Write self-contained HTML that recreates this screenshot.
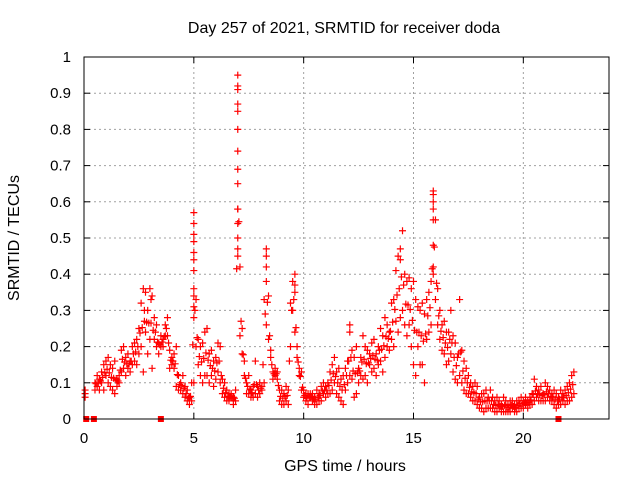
<!DOCTYPE html>
<html><head><meta charset="utf-8"><style>
body{margin:0;background:#fff}
svg{display:block;font-family:"Liberation Sans",sans-serif;font-size:15px}
</style></head><body>
<svg id="chart" width="640" height="480">
<text x="344" y="33" text-anchor="middle" font-size="16">Day 257 of 2021, SRMTID for receiver doda</text>
<text x="345" y="471" text-anchor="middle" font-size="16">GPS time / hours</text>
<text transform="translate(19,238) rotate(-90)" text-anchor="middle" font-size="16">SRMTID / TECUs</text>
<g id="grid"></g><g id="marks"></g>
<rect x="84" y="57" width="525" height="362" fill="none" stroke="#000" stroke-width="1"/>
</svg>
<script>
const xTicks=[0,5,10,15,20];
const yTicks=[0,0.1,0.2,0.3,0.4,0.5,0.6,0.7,0.8,0.9,1];
const yTickLabels=["0","0.1","0.2","0.3","0.4","0.5","0.6","0.7","0.8","0.9","1"];
const tStart=0.5, tStep=0.1;
const valsHi=[0.10,0.12,0.11,0.13,0.15,0.16,0.17,0.15,0.14,0.16,0.11,0.12,0.19,0.20,0.17,0.18,0.16,0.20,0.21,0.22,0.25,0.32,0.36,0.35,0.30,0.36,0.34,0.28,0.26,0.21,0.23,0.22,0.26,0.28,0.19,0.17,0.18,0.20,0.12,0.10,0.12,0.09,0.08,0.06,0.10,0.57,0.33,0.22,0.20,0.21,0.24,0.25,0.18,0.19,0.16,0.17,0.21,0.20,0.11,0.10,0.08,0.07,0.07,0.06,0.08,0.95,0.42,0.25,0.16,0.10,0.12,0.08,0.09,0.16,0.09,0.10,0.09,0.33,0.47,0.34,0.19,0.13,0.14,0.13,0.08,0.08,0.07,0.09,0.08,0.32,0.38,0.40,0.20,0.14,0.13,0.08,0.07,0.07,0.07,0.07,0.06,0.08,0.07,0.09,0.10,0.09,0.10,0.13,0.15,0.17,0.13,0.14,0.11,0.12,0.14,0.16,0.26,0.19,0.17,0.20,0.14,0.17,0.23,0.20,0.19,0.18,0.21,0.22,0.18,0.20,0.25,0.23,0.28,0.26,0.24,0.32,0.33,0.41,0.45,0.47,0.52,0.40,0.38,0.39,0.36,0.38,0.33,0.31,0.30,0.32,0.29,0.33,0.35,0.38,0.62,0.55,0.36,0.30,0.26,0.27,0.24,0.24,0.30,0.23,0.21,0.17,0.33,0.19,0.16,0.14,0.12,0.10,0.09,0.10,0.09,0.06,0.07,0.07,0.08,0.06,0.08,0.06,0.05,0.06,0.05,0.04,0.06,0.05,0.04,0.05,0.05,0.04,0.05,0.05,0.06,0.05,0.06,0.05,0.06,0.07,0.11,0.09,0.08,0.09,0.07,0.10,0.09,0.08,0.07,0.08,0.07,0.06,0.08,0.07,0.08,0.09,0.10,0.12,0.13];
const valsLo=[0.08,0.09,0.08,0.10,0.08,0.12,0.10,0.09,0.08,0.07,0.09,0.10,0.13,0.14,0.12,0.14,0.13,0.15,0.16,0.15,0.18,0.20,0.13,0.24,0.18,0.22,0.14,0.22,0.20,0.18,0.20,0.20,0.23,0.23,0.14,0.15,0.14,0.09,0.08,0.08,0.07,0.06,0.05,0.04,0.05,0.10,0.20,0.15,0.12,0.10,0.12,0.12,0.10,0.12,0.09,0.11,0.13,0.10,0.07,0.06,0.05,0.05,0.06,0.04,0.05,0.58,0.23,0.18,0.12,0.07,0.07,0.06,0.06,0.07,0.06,0.07,0.08,0.10,0.26,0.22,0.17,0.11,0.12,0.11,0.05,0.04,0.04,0.05,0.04,0.20,0.30,0.24,0.17,0.12,0.08,0.06,0.05,0.04,0.06,0.05,0.04,0.04,0.05,0.05,0.07,0.06,0.07,0.07,0.08,0.10,0.07,0.06,0.05,0.04,0.08,0.10,0.12,0.11,0.06,0.07,0.10,0.12,0.11,0.12,0.10,0.15,0.13,0.14,0.12,0.15,0.16,0.13,0.17,0.20,0.19,0.22,0.20,0.27,0.24,0.28,0.30,0.26,0.23,0.26,0.20,0.15,0.12,0.20,0.15,0.15,0.10,0.22,0.24,0.26,0.40,0.33,0.26,0.22,0.19,0.18,0.15,0.16,0.18,0.13,0.11,0.10,0.12,0.10,0.08,0.07,0.07,0.06,0.05,0.05,0.04,0.03,0.03,0.02,0.03,0.03,0.03,0.03,0.02,0.02,0.03,0.02,0.02,0.02,0.02,0.02,0.03,0.02,0.02,0.03,0.03,0.03,0.04,0.03,0.04,0.04,0.05,0.06,0.05,0.05,0.05,0.05,0.06,0.05,0.05,0.04,0.03,0.04,0.04,0.05,0.04,0.05,0.05,0.06,0.07];
const extraT=[0.05,0.05,0.05,5.0,5.0,5.0,5.0,5.0,5.0,5.0,5.0,5.0,5.0,7.0,7.0,7.0,7.0,7.0,7.0,7.0,7.0,7.0,7.0,7.0,7.0,7.0,8.3,8.3,8.3,9.6,9.6,14.4,15.9,15.9,15.9,15.9,15.9,15.9,12.1,2.75,3.05];
const extraV=[0.07,0.08,0.06,0.54,0.51,0.49,0.46,0.44,0.41,0.36,0.34,0.31,0.28,0.92,0.91,0.87,0.85,0.80,0.74,0.69,0.65,0.58,0.54,0.50,0.47,0.45,0.45,0.42,0.38,0.37,0.35,0.44,0.63,0.60,0.58,0.55,0.48,0.42,0.24,0.30,0.33];
const zeroT=[0.1,0.45,3.5,21.6];
const NS="http://www.w3.org/2000/svg";
const X=t=>84+t*(525/23.9);
const Y=v=>419-v*362;
const grid=document.getElementById('grid'), marks=document.getElementById('marks'), svg=document.getElementById('chart');
function mk(tag,attrs,parent){const e=document.createElementNS(NS,tag);for(const k in attrs)e.setAttribute(k,attrs[k]);parent.appendChild(e);return e;}
xTicks.forEach(t=>{
  const x=X(t);
  if(t>0){const g=mk('line',{x1:x,x2:x,y1:57,y2:419,stroke:'#a0a0a0','stroke-dasharray':'2,3'},grid);
  
  }
  mk('line',{x1:x,x2:x,y1:419,y2:413,stroke:'#000'},grid);
  mk('line',{x1:x,x2:x,y1:57,y2:63,stroke:'#000'},grid);
  const l=mk('text',{x:x,y:443,'text-anchor':'middle'},svg);l.textContent=t;
  
  
});
yTicks.forEach((v,i)=>{
  const y=Y(v);
  if(v>0&&v<1){const g=mk('line',{x1:84,x2:609,y1:y,y2:y,stroke:'#a0a0a0','stroke-dasharray':'2,3'},grid);
  
  }
  mk('line',{x1:84,x2:90,y1:y,y2:y,stroke:'#000'},grid);
  mk('line',{x1:603,x2:609,y1:y,y2:y,stroke:'#000'},grid);
  const l=mk('text',{x:71,y:y+5,'text-anchor':'end'},svg);l.textContent=yTickLabels[i];
  
  
});
function plus(t,v){const x=X(t),y=Y(v);
  const p=mk('path',{d:`M${x-3.5},${y}h7M${x},${y-3.5}v7`,stroke:'#f00','stroke-width':1.2,fill:'none'},marks);
  
  }
valsHi.forEach((v,i)=>plus(tStart+i*tStep,v));
valsLo.forEach((v,i)=>plus(tStart+i*tStep,v));
valsHi.forEach((v,i)=>{if(i<valsHi.length-1)plus(tStart+i*tStep+0.05,(v+valsLo[i]+valsHi[i+1]+valsLo[i+1])/4);});
extraT.forEach((t,i)=>plus(t,extraV[i]));
zeroT.forEach(t=>{const r=mk('rect',{x:X(t)-3,y:416,width:6,height:6,fill:'#f00'},marks);
  
  });
</script>
</body></html>
